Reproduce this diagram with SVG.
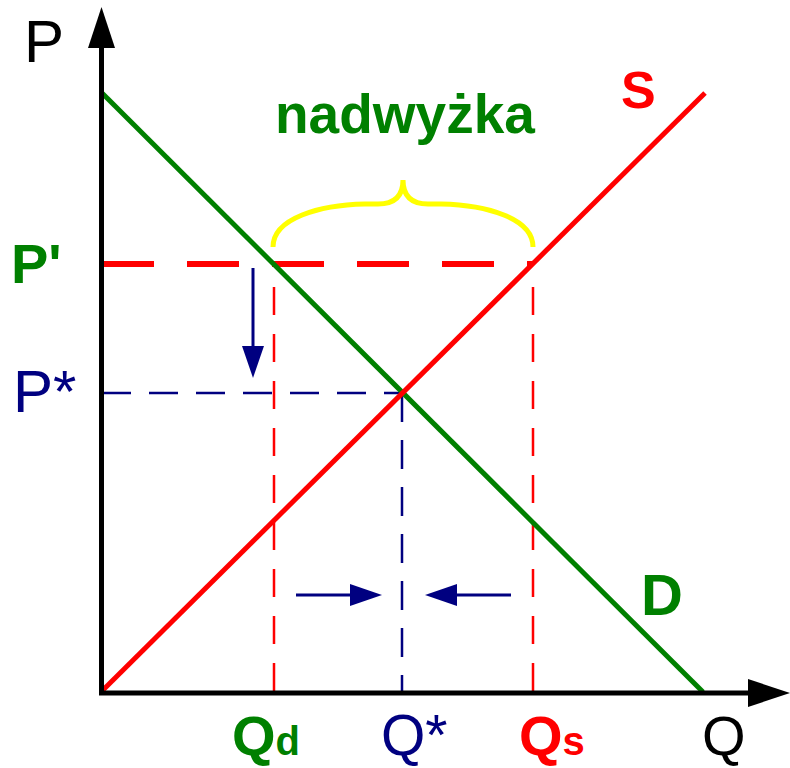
<svg xmlns="http://www.w3.org/2000/svg" width="790" height="768" viewBox="0 0 790 768">
<defs>
<style>
.t{font-family:"Liberation Sans",Arial,sans-serif}
.b{font-weight:bold}
.g{fill:#008000}.r{fill:#ff0000}.n{fill:#000080}.k{fill:#000000}
.axis{stroke:#000;stroke-width:5;fill:none}
.dashR{stroke:#ff0000;stroke-width:2.5;stroke-dasharray:28 19;fill:none}
.dashN{stroke:#000080;stroke-width:2.5;stroke-dasharray:29 18;fill:none}
.arr{stroke:#000080;stroke-width:3;fill:none;marker-end:url(#ah)}
</style>
<marker id="ah" markerUnits="userSpaceOnUse" markerWidth="32" markerHeight="22" viewBox="0 0 32 22" refX="4" refY="11" orient="auto">
<path d="M0,0 L32,11 L0,22 z" fill="#000080"/>
</marker>
</defs>
<g id="connectors">
<line class="dashR" x1="274" y1="287" x2="274" y2="692"/>
<line class="dashR" x1="533" y1="287" x2="533" y2="692"/>
<line class="dashN" x1="102" y1="393" x2="402" y2="393"/>
<line class="dashN" x1="402" y1="393" x2="402" y2="692"/>
<line x1="102" y1="264" x2="533" y2="264" stroke="#ff0000" stroke-width="6" stroke-dasharray="52 33"/>
<path d="M273,247 C273,218 320,205 365,204 L378,204 C396,204 403,195 403,180 C403,195 410,204 428,204 L441,204 C486,205 533,218 533,247" stroke="#ffff00" stroke-width="5" fill="none"/>
<line id="D" x1="101" y1="92" x2="703" y2="692" stroke="#008000" stroke-width="5"/>
<line id="S" x1="101" y1="692" x2="705" y2="93" stroke="#ff0000" stroke-width="5"/>
<line class="arr" x1="253" y1="268" x2="253" y2="350"/>
<line class="arr" x1="296" y1="595" x2="354" y2="595"/>
<line class="arr" x1="511" y1="595" x2="453" y2="595"/>
<line class="axis" x1="101.5" y1="694" x2="101.5" y2="44"/>
<polygon points="101.5,7 88,48 115,48" fill="#000"/>
<line class="axis" x1="99" y1="693" x2="752" y2="693"/>
<polygon points="790,693 748,679 748,707" fill="#000"/>
</g>
<g id="label-P"><text class="t k" x="24" y="62" font-size="60">P</text></g>
<g id="label-Q"><text class="t k" x="702" y="755" font-size="56">Q</text></g>
<g id="label-Pprime"><text class="t b g" x="11" y="283" font-size="56">P'</text></g>
<g id="label-Pstar"><text class="t n" x="13" y="412" font-size="60">P*</text></g>
<g id="label-nadwyzka"><text class="t b g" x="275" y="133" font-size="55">nadwyżka</text></g>
<g id="label-S"><text class="t b r" x="621" y="108" font-size="52">S</text></g>
<g id="label-D"><text class="t b g" x="641" y="615" font-size="58">D</text></g>
<g id="label-Qd"><text class="t b g" x="232" y="755" font-size="56">Q<tspan font-size="40">d</tspan></text></g>
<g id="label-Qstar"><text class="t n" x="381" y="755" font-size="57">Q*</text></g>
<g id="label-Qs"><text class="t b r" x="519" y="755" font-size="56">Q<tspan font-size="40">s</tspan></text></g>
</svg>
